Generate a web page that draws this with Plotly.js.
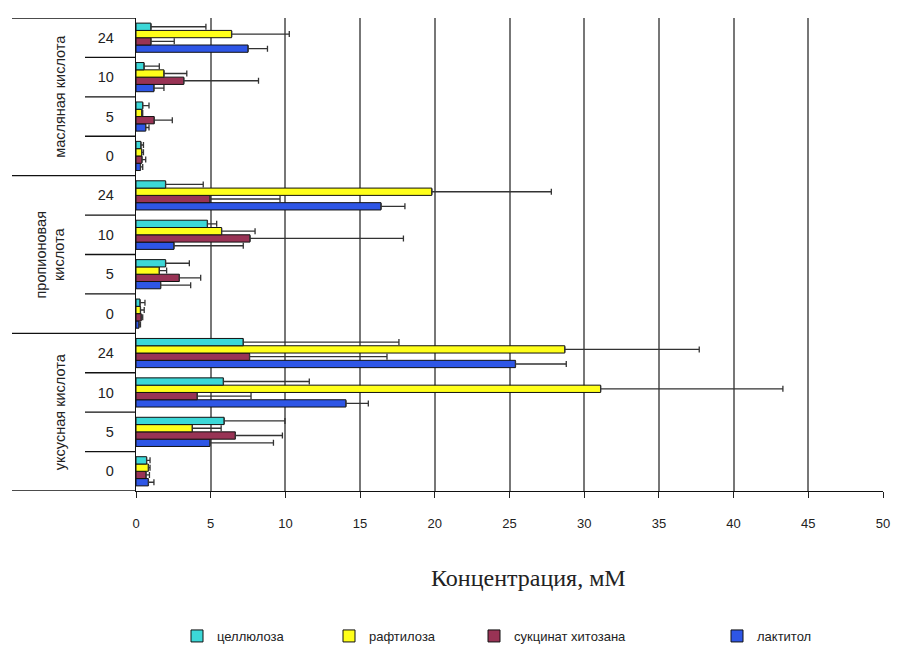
<!DOCTYPE html>
<html>
<head>
<meta charset="utf-8">
<script src="https://cdn.plot.ly/plotly-3.0.1.min.js"></script>
<style>html,body{margin:0;padding:0;background:#fff;}#chart{width:897px;height:646px;}</style>
</head>
<body>
<div id="chart"></div>
<script>
// ---- data ----
const groups = ["уксусная кислота", "пропионовая<br>кислота", "масляная кислота"];
const times = ["0", "5", "10", "24"];
const seriesNames = ["целлюлоза", "рафтилоза", "сукцинат хитозана", "лактитол"];

// order: acetic 0,5,10,24 | propionic 0,5,10,24 | butyric 0,5,10,24
const cellulose    = [0.71, 5.9, 5.85, 7.18,  0.27, 1.98, 4.78, 1.98,  0.33, 0.45, 0.54, 1.0];
const celluloseErr = [0.23, 4.07, 5.75, 10.42, 0.33, 1.59, 0.62, 2.52, 0.17, 0.42, 1.02, 3.68];
const raftilose    = [0.83, 3.77, 31.1, 28.7,  0.3, 1.56, 5.73, 19.8,  0.38, 0.38, 1.87, 6.4];
const raftiloseErr = [0.11, 1.93, 12.2, 9.0,   0.25, 0.49, 2.24, 8.0,  0.12, 0.07, 1.53, 3.86];
const chitosan     = [0.67, 6.65, 4.1, 7.6,    0.35, 2.9, 7.63, 4.95,  0.4, 1.22, 3.2, 1.0];
const chitosanErr  = [0.23, 3.15, 3.6, 9.2,    0.1, 1.43, 10.27, 4.69, 0.25, 1.21, 5.0, 1.56];
const lactitol     = [0.83, 4.95, 14.05, 25.4, 0.2, 1.65, 2.54, 16.4,  0.3, 0.65, 1.2, 7.5];
const lactitolErr  = [0.37, 4.25, 1.5, 3.4,    0.1, 2.01, 4.64, 1.6,   0.15, 0.22, 0.67, 1.3];

const xTicks = [0, 5, 10, 15, 20, 25, 30, 35, 40, 45, 50];

// ---- build ----
const cats = [];
const catText = [];
groups.forEach((g, gi) => times.forEach(t => { cats.push(gi + "_" + t); catText.push(t); }));

const colors = ["#3CD8D8", "#FFFF1A", "#993355", "#2E56E6"];
const values = [cellulose, raftilose, chitosan, lactitol];
const errs = [celluloseErr, raftiloseErr, chitosanErr, lactitolErr];
const legendIds = ["legend", "legend2", "legend3", "legend4"];

const traces = [];
for (let i = 3; i >= 0; i--) {
  traces.push({
    type: "bar",
    orientation: "h",
    name: seriesNames[i],
    y: cats,
    x: values[i],
    legend: legendIds[i],
    marker: {color: colors[i], line: {color: "#111", width: 1}},
    error_x: {type: "data", symmetric: false, array: errs[i], arrayminus: values[i].map(() => 0),
              color: "#333", thickness: 1.3, width: 3}
  });
}

const L = 136, R = 14, T = 18, B = 155, W = 897, H = 646;
const pw = W - L - R, ph = H - T - B;
const px = v => (v - L) / pw;      // pixel -> paper x
const py = v => 1 - (v - T) / ph;  // pixel -> paper y

const shapes = [];
const nT = times.length;
// outer boundaries (group)
for (let g = 0; g <= groups.length; g++) {
  const yv = g * nT - 0.5;
  shapes.push({type: "line", xref: "paper", yref: "y", x0: px(12), x1: 0, y0: yv, y1: yv,
               line: {color: "#111", width: 1.3}});
}
// inner boundaries
groups.forEach((g, gi) => {
  for (let k = 1; k < nT; k++) {
    const yv = gi * nT + k - 0.5;
    shapes.push({type: "line", xref: "paper", yref: "y", x0: px(85), x1: 0, y0: yv, y1: yv,
                 line: {color: "#111", width: 1.3}});
  }
});

const annotations = [];
groups.forEach((g, gi) => {
  annotations.push({xref: "paper", yref: "y", x: px(g.indexOf("<br>") >= 0 ? 50 : 60), y: gi * nT + (nT - 1) / 2,
    text: g, textangle: -90, showarrow: false, xanchor: "center", yanchor: "middle",
    font: {family: "Liberation Sans, Arial", size: 14.5, color: "#222"}});
});
annotations.push({xref: "paper", yref: "paper", x: px(528), y: py(578), text: "Концентрация, мМ",
  showarrow: false, xanchor: "center", yanchor: "middle",
  font: {family: "Liberation Serif, Times New Roman", size: 24, color: "#222"}});

const legendX = [205, 357, 502, 745];
const legendFont = {family: "Liberation Sans, Arial", size: 13, color: "#222"};
const layout = {
  width: W, height: H,
  margin: {l: L, r: R, t: T, b: B, autoexpand: false},
  paper_bgcolor: "#fff", plot_bgcolor: "#fff",
  barmode: "group", bargap: 0.26, bargroupgap: 0,
  showlegend: true,
  xaxis: {range: [0, 50], tickvals: xTicks, ticks: "outside", ticklen: 6, tickcolor: "#222",
          showgrid: true, gridcolor: "#777", gridwidth: 2, showline: true, linecolor: "#111", linewidth: 1.3,
          zeroline: false, ticklabelstandoff: 14, tickfont: {family: "Liberation Sans, Arial", size: 13, color: "#222"}},
  yaxis: {type: "category", categoryorder: "array", categoryarray: cats, tickvals: cats, ticktext: catText,
          range: [-0.5, cats.length - 0.5], showgrid: false, showline: true, linecolor: "#111", linewidth: 1.3,
          ticks: "", ticklabelstandoff: 18, zeroline: false,
          tickfont: {family: "Liberation Sans, Arial", size: 14.5, color: "#222"}},
  shapes: shapes,
  annotations: annotations
};
legendIds.forEach((id, i) => {
  layout[id] = {x: px(legendX[i] - 28), y: py(636), xanchor: "left", yanchor: "middle",
                orientation: "h", font: legendFont, itemwidth: 30, bgcolor: "rgba(0,0,0,0)"};
});

Plotly.newPlot("chart", traces, layout, {displayModeBar: false, staticPlot: true});
</script>
</body>
</html>
